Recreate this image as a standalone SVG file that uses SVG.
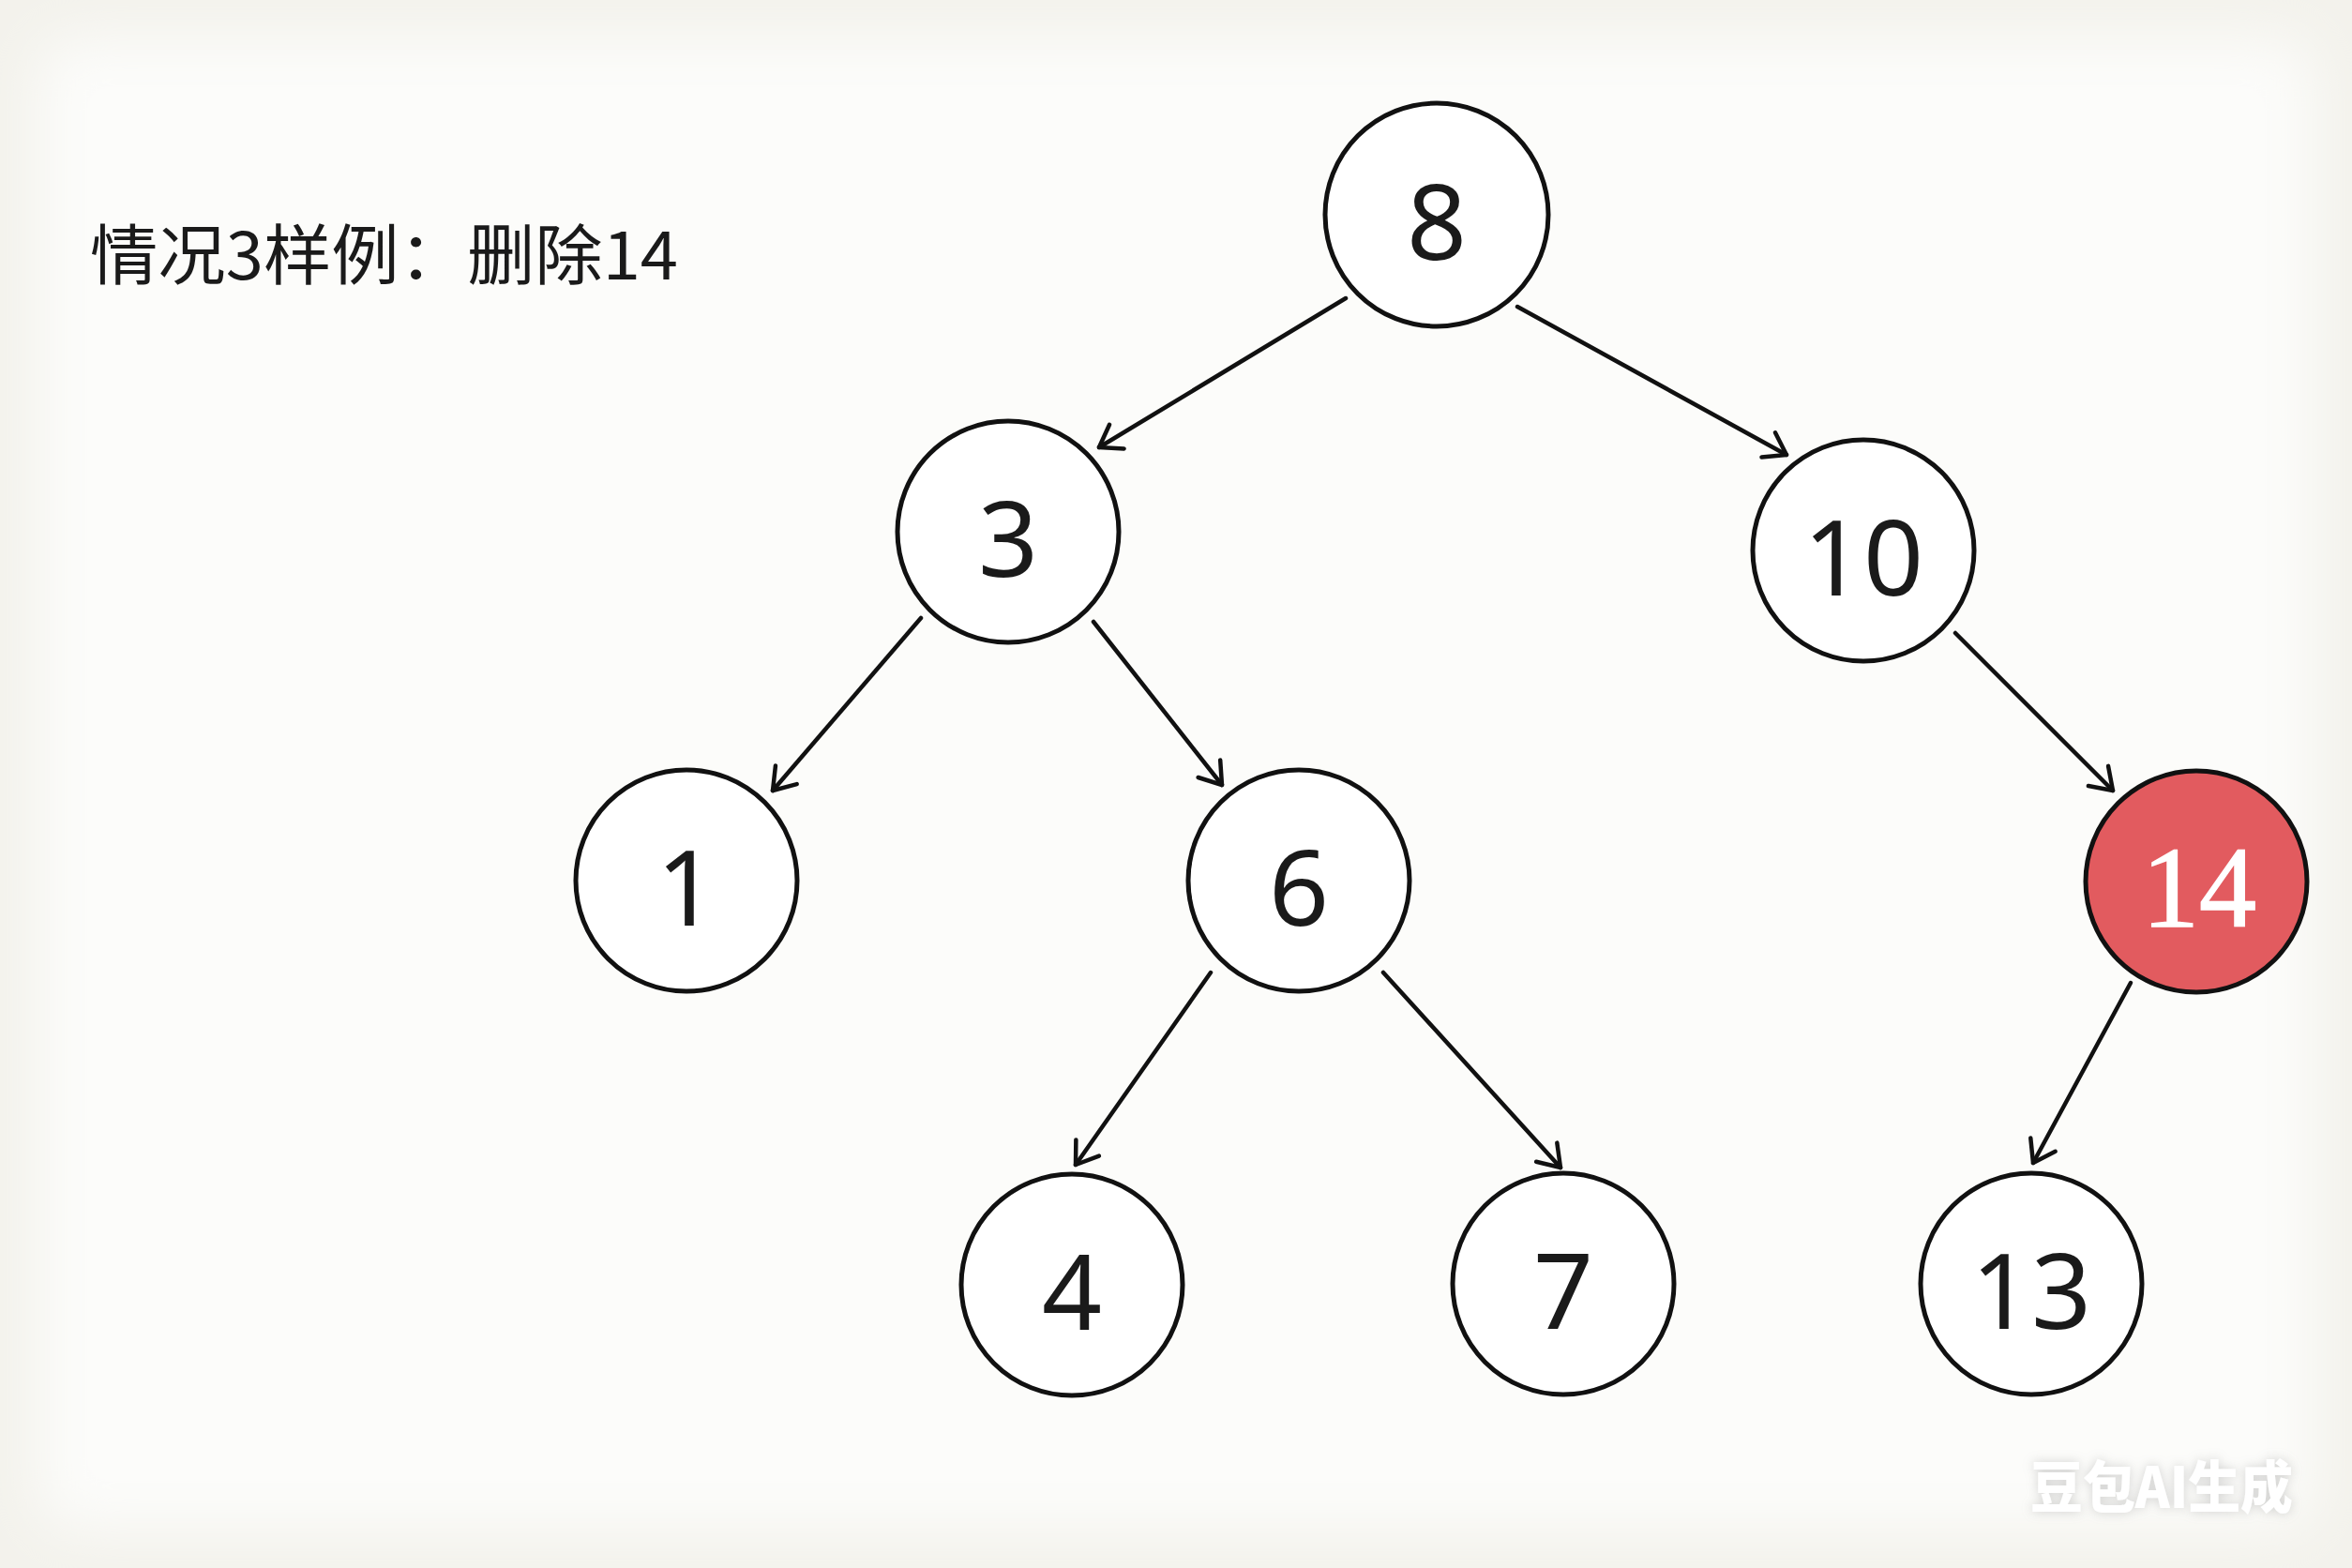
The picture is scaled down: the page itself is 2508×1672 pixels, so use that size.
<svg xmlns="http://www.w3.org/2000/svg" width="2508" height="1672" viewBox="0 0 2508 1672">
<style>
.node circle{fill:#ffffff;stroke:#111111;stroke-width:5}
.node text{font-family:"Noto Sans","Open Sans","DejaVu Sans",sans-serif;font-size:112px;fill:#1a1a1a;text-anchor:middle}
#n14 circle{fill:#e25b5f}
#n14 text{font-family:"Liberation Serif","DejaVu Serif",serif;font-size:122px;fill:#ffffff;stroke:#ffffff;stroke-width:1.5}
.edges line{stroke:#111111;stroke-width:4.5;stroke-linecap:round;marker-end:url(#arr)}
.title{font-family:"Noto Sans CJK SC","Noto Sans",sans-serif;font-size:70px;fill:#1a1a1a}
.wm{font-family:"Noto Sans CJK SC","Noto Sans",sans-serif;font-weight:900;font-size:60px;fill:#ffffff}
</style>
<defs>
<marker id="arr" markerUnits="userSpaceOnUse" markerWidth="40" markerHeight="40" viewBox="-30 -20 40 40" refX="0" refY="0" orient="auto">
<path d="M-22,-15 L0,0 L-22,15" fill="none" stroke="#111111" stroke-width="4.5" stroke-linecap="round" stroke-linejoin="round"/>
</marker>
<filter id="soft" x="-5%" y="-5%" width="110%" height="110%"><feGaussianBlur stdDeviation="30"/></filter>
<filter id="glow" x="-20%" y="-50%" width="140%" height="200%"><feGaussianBlur in="SourceAlpha" stdDeviation="6" result="b"/><feFlood flood-color="#9a9a9a" flood-opacity="0.45"/><feComposite in2="b" operator="in" result="s"/><feMerge><feMergeNode in="s"/><feMergeNode in="SourceGraphic"/></feMerge></filter>
</defs>
<rect width="2508" height="1672" fill="#f3f2ec"/>
<rect x="40" y="40" width="2428" height="1592" rx="40" fill="#fcfcfa" filter="url(#soft)"/>
<text class="title" x="96" y="298" textLength="627" lengthAdjust="spacingAndGlyphs">情况3样例：删除14</text>
<g class="edges" id="edges">
<line x1="1435" y1="318" x2="1172" y2="477"/>
<line x1="1618" y1="327" x2="1905" y2="485"/>
<line x1="982" y1="659" x2="824" y2="843"/>
<line x1="1166" y1="663" x2="1303" y2="837"/>
<line x1="2085" y1="675" x2="2253" y2="843"/>
<line x1="1291" y1="1037" x2="1147" y2="1242"/>
<line x1="1475" y1="1037" x2="1664" y2="1245"/>
<line x1="2272" y1="1048" x2="2168" y2="1240"/>
</g>
<g class="node" id="n8"><circle cx="1532" cy="229" r="119"/><text x="1532" y="277">8</text></g>
<g class="node" id="n3"><circle cx="1075" cy="567" r="118"/><text x="1075" y="615">3</text></g>
<g class="node" id="n10"><circle cx="1987" cy="587" r="118"/><text x="1987" y="635">10</text></g>
<g class="node" id="n1"><circle cx="732" cy="939" r="118"/><text x="732" y="987">1</text></g>
<g class="node" id="n6"><circle cx="1385" cy="939" r="118"/><text x="1385" y="987">6</text></g>
<g class="node" id="n14"><circle cx="2342" cy="940" r="118"/><text x="2345" y="988">14</text></g>
<g class="node" id="n4"><circle cx="1143" cy="1370" r="118"/><text x="1143" y="1418">4</text></g>
<g class="node" id="n7"><circle cx="1667" cy="1369" r="118"/><text x="1667" y="1417">7</text></g>
<g class="node" id="n13"><circle cx="2166" cy="1369" r="118"/><text x="2166" y="1417">13</text></g>
<text class="wm" x="2165" y="1608" textLength="280" lengthAdjust="spacingAndGlyphs" filter="url(#glow)">豆包AI生成</text>
</svg>
